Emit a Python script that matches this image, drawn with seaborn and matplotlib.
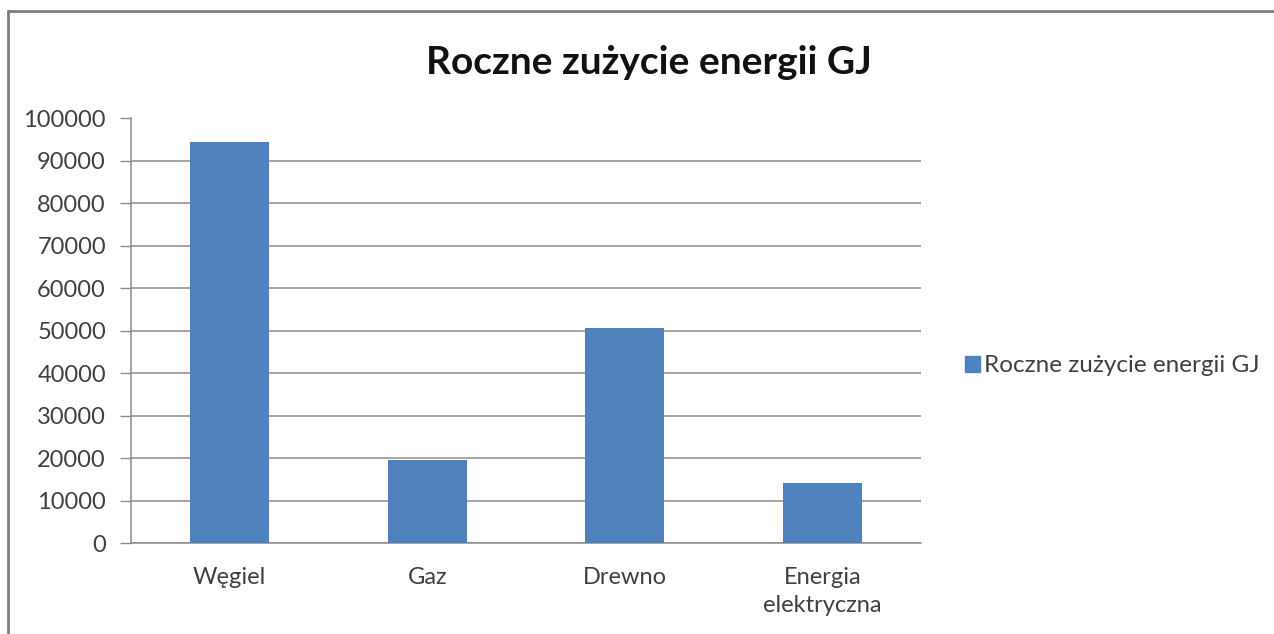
import pandas as pd
import matplotlib.pyplot as plt
import seaborn as sns
from matplotlib.lines import Line2D
from matplotlib.patches import Patch

# data
categories = ["Węgiel", "Gaz", "Drewno", "Energia\nelektryczna"]
values = [94500, 19450, 50600, 14200]
series_name = "Roczne zużycie energii GJ"
y_ticks = list(range(0, 100001, 10000))

BAR = "#4F81BD"
GRID = "#8C8C8C"
TEXT = "#404040"

sns.set_theme(style="white")
plt.rcParams["font.family"] = ["Lato", "DejaVu Sans"]

df = pd.DataFrame({"category": categories, "value": values})

fig = plt.figure(figsize=(12.74, 6.34), dpi=100)
ax = fig.add_axes([131 / 1274, 1 - 543 / 634, 790 / 1274, 424.5 / 634])

sns.barplot(data=df, x="category", y="value", color=BAR, width=0.4,
            saturation=1, linewidth=0, ax=ax, zorder=3)

ax.set_xlim(-0.5, len(categories) - 0.5)
ax.set_ylim(0, 100000)
ax.set_yticks(y_ticks)
ax.set_yticklabels([str(t) for t in y_ticks], fontsize=17, color=TEXT)
ax.yaxis.grid(True, color=GRID, linewidth=1.1, zorder=0)
ax.set_xlabel("")
ax.set_ylabel("")

# category labels at centres, tick marks between categories
ax.set_xticks(range(len(categories)))
ax.set_xticklabels(categories, fontsize=17, color=TEXT, linespacing=1.45)
ax.set_xticks([i - 0.5 for i in range(len(categories) + 1)], minor=True)
ax.tick_params(axis="x", which="major", length=0, pad=17)
ax.tick_params(axis="x", which="minor", length=6, width=1, color=GRID, direction="out")
ax.tick_params(axis="y", length=8, width=1, color=GRID, direction="out", pad=10, left=True)

for side in ["top", "right"]:
    ax.spines[side].set_visible(False)
for side in ["left", "bottom"]:
    ax.spines[side].set_color(GRID)
    ax.spines[side].set_linewidth(1.1)

fig.text(649 / 1274, 1 - 62 / 634, series_name, ha="center", va="center",
         fontsize=28, fontweight="bold", color="#111111")

handle = Patch(facecolor=BAR, edgecolor=BAR)
fig.legend([handle], [series_name], loc="center left",
           bbox_to_anchor=(965 / 1274, 1 - 366 / 634), frameon=False,
           borderaxespad=0, borderpad=0,
           fontsize=17.5, handlelength=0.6, handleheight=0.6,
           handletextpad=0.2, labelcolor=TEXT)

# chart border, cropped on the right and bottom
fig.add_artist(Line2D([8 / 1274, 8 / 1274], [0, 1 - 11 / 634],
                      transform=fig.transFigure, color="#7F7F7F", linewidth=2))
fig.add_artist(Line2D([8 / 1274, 1], [1 - 11 / 634, 1 - 11 / 634],
                      transform=fig.transFigure, color="#7F7F7F", linewidth=2))

fig.savefig("out.png", dpi=100, facecolor="white")
